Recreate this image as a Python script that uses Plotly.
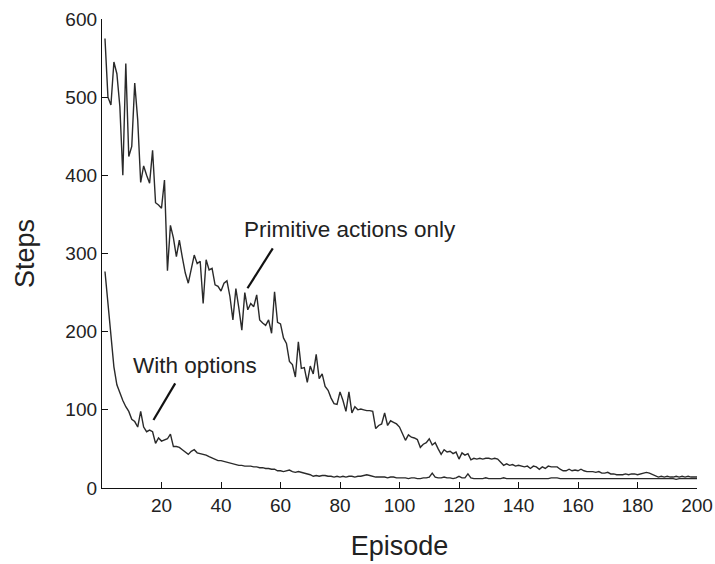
import plotly.graph_objects as go

episodes = list(range(1, 201))

primitive_steps = [
    575, 500, 490, 545, 530, 488, 400, 543, 424, 437,
    518, 471, 391, 412, 400, 390, 432, 365, 362, 358,
    394, 278, 336, 320, 296, 317, 295, 275, 262, 280,
    298, 287, 290, 236, 292, 279, 281, 260, 258, 252,
    262, 265, 245, 215, 255, 230, 202, 250, 228, 236,
    232, 247, 215, 211, 208, 215, 198, 251, 212, 210,
    192, 185, 162, 158, 142, 187, 153, 154, 135, 156,
    146, 171, 140, 146, 130, 125, 115, 108, 107, 123,
    112, 98, 123, 96, 104, 100, 101, 100, 99, 99,
    98, 76, 80, 82, 96, 80, 86, 84, 82, 78,
    70, 61, 68, 65, 64, 62, 52, 56, 58, 63,
    55, 58, 50, 43, 49, 46, 47, 44, 46, 37,
    45, 42, 44, 36, 38, 37, 38, 37, 38, 38,
    37, 38, 37, 33, 29, 31, 29, 30, 28, 29,
    28, 27, 28, 25, 28, 27, 24, 27, 25, 28,
    27, 27, 27, 24, 22, 22, 24, 22, 23, 22,
    24, 22, 21, 21, 21, 20, 21, 19, 19, 20,
    18, 18, 17, 17, 17, 18, 17, 18, 18, 17,
    18, 19, 20, 19, 17, 15, 14, 15, 14, 15,
    14, 14, 15, 14, 15, 14, 15, 14, 14, 14,
]

options_steps = [
    277, 236, 189, 155, 132, 121, 112, 104, 98, 88,
    85, 78, 98, 78, 72, 74, 72, 57, 64, 60,
    62, 63, 69, 53, 53, 52, 49, 46, 43, 47,
    49, 45, 44, 43, 42, 40, 38, 36, 35, 35,
    34, 33, 32, 31, 30, 29, 29, 28, 28, 28,
    27, 27, 26, 26, 25, 25, 24, 24, 22, 22,
    21, 22, 23, 21, 20, 21, 20, 19, 18, 17,
    15, 16, 15, 16, 16, 15, 15, 14, 15, 14,
    15, 14, 15, 15, 14, 15, 15, 16, 17, 16,
    15, 14, 14, 14, 14, 13, 14, 14, 13, 13,
    13, 13, 12, 13, 13, 12, 12, 13, 13, 14,
    19, 14, 13, 13, 14, 13, 13, 12, 13, 15,
    13, 13, 18, 13, 12, 12, 12, 12, 13, 12,
    12, 12, 12, 12, 13, 12, 12, 12, 12, 12,
    12, 12, 12, 12, 12, 12, 12, 12, 12, 12,
    13, 13, 13, 12, 12, 12, 12, 12, 12, 12,
    12, 12, 12, 12, 12, 12, 12, 12, 12, 12,
    12, 12, 12, 12, 12, 12, 12, 12, 12, 12,
    12, 12, 12, 12, 12, 12, 12, 12, 12, 12,
    12, 12, 11, 12, 12, 12, 12, 12, 12, 12,
]

x_ticks = [20, 40, 60, 80, 100, 120, 140, 160, 180, 200]
y_ticks = [0, 100, 200, 300, 400, 500, 600]

label_primitive = "Primitive actions only"
label_options = "With options"

FONT = "Liberation Sans, Arial, Helvetica, sans-serif"
LINE_COLOR = "#2a2a2a"

fig = go.Figure()
fig.add_trace(go.Scatter(x=episodes, y=primitive_steps, mode="lines",
                         line=dict(color=LINE_COLOR, width=1.4), showlegend=False))
fig.add_trace(go.Scatter(x=episodes, y=options_steps, mode="lines",
                         line=dict(color=LINE_COLOR, width=1.4), showlegend=False))

fig.add_annotation(x=83.3, y=331, text=label_primitive, showarrow=False,
                   font=dict(family=FONT, size=22.5, color="#222"))
fig.add_annotation(x=31.4, y=157, text=label_options, showarrow=False,
                   font=dict(family=FONT, size=22.5, color="#222"))
fig.add_shape(type="line", x0=57.4, y0=306.6, x1=48.9, y1=255.5,
              line=dict(color="#111", width=2.2))
fig.add_shape(type="line", x0=24.6, y0=133.9, x1=17.3, y1=87,
              line=dict(color="#111", width=2.2))

fig.update_layout(
    width=715, height=564,
    margin=dict(l=102, r=18, t=19, b=76),
    paper_bgcolor="white", plot_bgcolor="white",
    font=dict(family=FONT, color="#222"),
    xaxis=dict(range=[0, 200], tickvals=x_ticks, ticks="inside", ticklen=6,
               tickwidth=1.2, tickcolor="#111", showline=True, linecolor="#111",
               linewidth=1.3, showgrid=False, zeroline=False, automargin=False,
               tickfont=dict(size=19, family=FONT, color="#222"),
               title=dict(text="Episode", font=dict(size=27, family=FONT, color="#222"),
                          standoff=21)),
    yaxis=dict(range=[0, 600], tickvals=y_ticks, ticks="inside", ticklen=6,
               tickwidth=1.2, tickcolor="#111", showline=True, linecolor="#111",
               linewidth=1.3, showgrid=False, zeroline=False, automargin=False,
               tickfont=dict(size=19, family=FONT, color="#222"),
               title=dict(text="Steps", font=dict(size=27, family=FONT, color="#222"),
                          standoff=22)),
)

fig.write_html("out.html")
